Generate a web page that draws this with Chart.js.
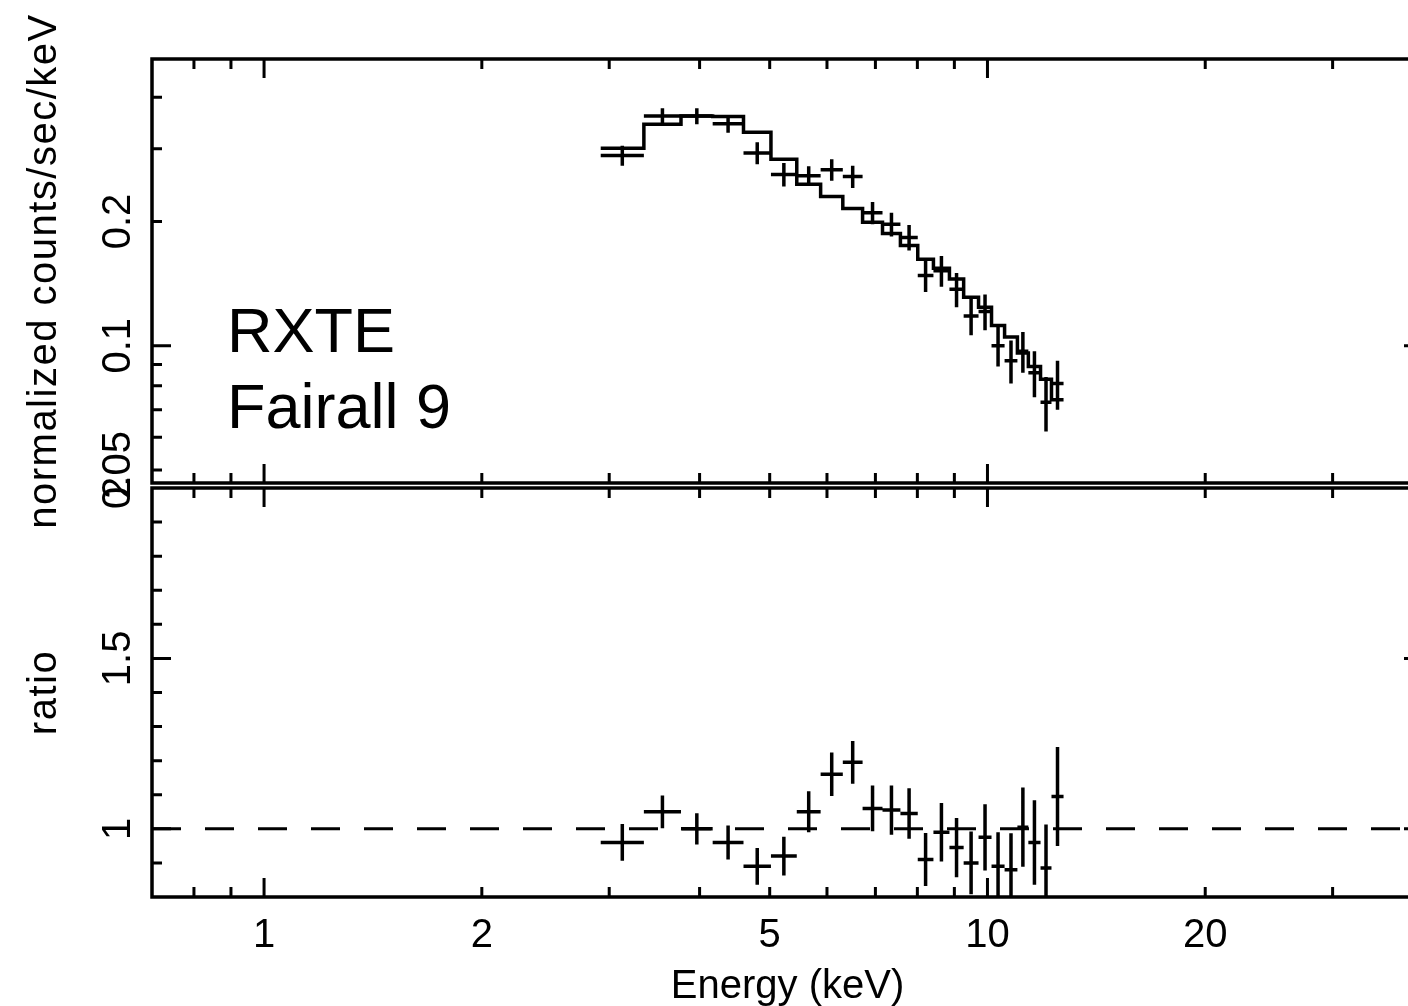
<!DOCTYPE html>
<html>
<head>
<meta charset="utf-8">
<script src="https://cdn.jsdelivr.net/npm/chart.js@4.4.0/dist/chart.umd.min.js"></script>
<style>
html, body { margin: 0; padding: 0; background: #fff; overflow: hidden; }
#wrap { position: relative; width: 1408px; height: 1006px; overflow: hidden; }
canvas { position: absolute; left: 0; top: 0; }
</style>
</head>
<body>
<div id="wrap">
  <canvas id="spec" width="1430" height="1006"></canvas>
  <canvas id="ratio" width="1430" height="1006"></canvas>
</div>
<script>
// channel bin edges (keV)
const binEdges = [2.92, 3.35, 3.77, 4.17, 4.60, 5.02, 5.45, 5.88, 6.31, 6.72, 7.16, 7.58,
                  8.01, 8.42, 8.86, 9.27, 9.72, 10.13, 10.56, 11.00, 11.39, 11.84, 12.26, 12.74];
// normalized counts/sec/keV
const counts = [0.289, 0.360, 0.360, 0.345, 0.293, 0.260, 0.258, 0.267, 0.257, 0.210, 0.197, 0.183,
                0.148, 0.152, 0.137, 0.118, 0.121, 0.100, 0.092, 0.097, 0.086, 0.073, 0.081];
const countErr = [0.016, 0.016, 0.016, 0.017, 0.018, 0.017, 0.014, 0.016, 0.016, 0.013, 0.013, 0.013,
                  0.013, 0.013, 0.013, 0.012, 0.012, 0.011, 0.011, 0.011, 0.011, 0.011, 0.011];
const model = [0.301, 0.344, 0.360, 0.359, 0.329, 0.283, 0.246, 0.230, 0.215, 0.199, 0.187, 0.175,
               0.162, 0.154, 0.145, 0.131, 0.124, 0.112, 0.105, 0.096, 0.089, 0.083, 0.074];
// data / model
const ratio = [0.96, 1.05, 1.00, 0.96, 0.89, 0.92, 1.05, 1.16, 1.195, 1.06, 1.055, 1.045,
               0.91, 0.99, 0.945, 0.90, 0.975, 0.89, 0.88, 1.005, 0.96, 0.885, 1.095];
const ratioErr = [0.054, 0.048, 0.046, 0.050, 0.054, 0.057, 0.060, 0.064, 0.063, 0.067, 0.072, 0.074,
                  0.078, 0.086, 0.087, 0.092, 0.097, 0.100, 0.107, 0.116, 0.124, 0.128, 0.145];

const xRange = [0.7, 40];
const countRange = [0.0465, 0.495];
const ratioRange = [0.8, 2.0];

const xTickLabels = [1, 2, 5, 10, 20];
const xMajorTicks = [1, 10];
const xMinorTicks = [0.8, 0.9, 2, 3, 4, 5, 6, 7, 8, 9, 20, 30];
const countTickLabels = [0.05, 0.1, 0.2];
const countMajorTicks = [0.1];
const countMinorTicks = [0.05, 0.06, 0.07, 0.08, 0.09, 0.2, 0.3, 0.4];
const ratioTickLabels = [1, 1.5, 2];
const ratioMajorTicks = [1, 1.5];
const ratioMinorTicks = [0.9, 1.1, 1.2, 1.3, 1.4, 1.6, 1.7, 1.8, 1.9];

const FONT = '"Liberation Sans", Arial, Helvetica, sans-serif';
const LW = 3.5;

function errorBars(values, errors) {
  return {
    id: 'errorBars',
    afterDatasetsDraw(chart) {
      const { ctx, chartArea: a, scales: { x, y } } = chart;
      ctx.save();
      ctx.beginPath();
      ctx.rect(a.left, a.top, a.right - a.left, a.bottom - a.top);
      ctx.clip();
      ctx.strokeStyle = '#000';
      ctx.lineWidth = LW;
      ctx.beginPath();
      values.forEach((v, i) => {
        const x0 = x.getPixelForValue(binEdges[i]);
        const x1 = x.getPixelForValue(binEdges[i + 1]);
        const xc = (x0 + x1) / 2;
        const yc = y.getPixelForValue(v);
        ctx.moveTo(x0, yc);
        ctx.lineTo(x1, yc);
        ctx.moveTo(xc, y.getPixelForValue(v - errors[i]));
        ctx.lineTo(xc, y.getPixelForValue(v + errors[i]));
      });
      ctx.stroke();
      ctx.restore();
    }
  };
}

function frame(opt) {
  return {
    id: 'frame',
    afterDraw(chart) {
      const { ctx, chartArea: a, scales: { x, y } } = chart;
      ctx.save();
      ctx.strokeStyle = '#000';
      ctx.lineWidth = LW;
      ctx.strokeRect(a.left, a.top, a.right - a.left, a.bottom - a.top);

      ctx.lineWidth = 3;
      ctx.beginPath();
      const inside = (p, lo, hi) => p > lo + 1 && p < hi - 1;
      const xt = (vals, len) => vals.forEach(v => {
        const p = x.getPixelForValue(v);
        if (!inside(p, a.left, a.right)) return;
        ctx.moveTo(p, a.top); ctx.lineTo(p, a.top + len);
        ctx.moveTo(p, a.bottom); ctx.lineTo(p, a.bottom - len);
      });
      const yt = (vals, len) => vals.forEach(v => {
        const p = y.getPixelForValue(v);
        if (!inside(p, a.top, a.bottom)) return;
        ctx.moveTo(a.left, p); ctx.lineTo(a.left + len, p);
        ctx.moveTo(a.right, p); ctx.lineTo(a.right - len, p);
      });
      xt(xMinorTicks, 10);
      xt(xMajorTicks, 19);
      yt(opt.yMinor, 10);
      yt(opt.yMajor, 19);
      ctx.stroke();

      ctx.fillStyle = '#000';
      ctx.font = '40px ' + FONT;
      ctx.textAlign = 'center';
      ctx.textBaseline = 'alphabetic';
      opt.yLabels.forEach(v => {
        ctx.save();
        ctx.translate(130, y.getPixelForValue(v));
        ctx.rotate(-Math.PI / 2);
        ctx.fillText(String(v), 0, 0);
        ctx.restore();
      });

      ctx.save();
      ctx.translate(56, (a.top + a.bottom) / 2);
      ctx.rotate(-Math.PI / 2);
      ctx.letterSpacing = '1.5px';
      ctx.fillText(opt.yTitle, 0, 0);
      ctx.restore();

      if (opt.xLabels) {
        xTickLabels.forEach(v => ctx.fillText(String(v), x.getPixelForValue(v), 947));
        ctx.fillText('Energy (keV)', (a.left + a.right) / 2, 998);
      }
      if (opt.notes) {
        ctx.font = '63px ' + FONT;
        ctx.textAlign = 'left';
        ctx.fillText(opt.notes[0], 227, 352);
        ctx.fillText(opt.notes[1], 227, 428);
      }
      ctx.restore();
    }
  };
}

const modelSteps = model.map((m, i) => ({ x: binEdges[i], y: m }));
modelSteps.push({ x: binEdges[binEdges.length - 1], y: model[model.length - 1] });
const centers = (vals) => vals.map((v, i) => ({ x: Math.sqrt(binEdges[i] * binEdges[i + 1]), y: v }));

const common = {
  responsive: false,
  animation: false,
  devicePixelRatio: 1,
  events: [],
  plugins: { legend: { display: false }, tooltip: { enabled: false } }
};

new Chart(document.getElementById('spec'), {
  type: 'scatter',
  data: {
    datasets: [
      { data: modelSteps, showLine: true, stepped: true, borderColor: '#000', borderWidth: LW, pointRadius: 0 },
      { data: centers(counts), pointRadius: 0 }
    ]
  },
  options: Object.assign({}, common, {
    layout: { padding: { left: 152, top: 59, right: 7, bottom: 1006 - 483 } },
    scales: {
      x: { type: 'logarithmic', min: xRange[0], max: xRange[1], display: false },
      y: { type: 'logarithmic', min: countRange[0], max: countRange[1], display: false }
    }
  }),
  plugins: [
    errorBars(counts, countErr),
    frame({ yMinor: countMinorTicks, yMajor: countMajorTicks, yLabels: countTickLabels,
            yTitle: 'normalized counts/sec/keV', xLabels: false, notes: ['RXTE', 'Fairall 9'] })
  ]
});

new Chart(document.getElementById('ratio'), {
  type: 'scatter',
  data: {
    datasets: [
      { data: [{ x: xRange[0], y: 1 }, { x: xRange[1], y: 1 }], showLine: true, borderColor: '#000',
        borderWidth: 3, borderDash: [29, 24], pointRadius: 0 },
      { data: centers(ratio), pointRadius: 0 }
    ]
  },
  options: Object.assign({}, common, {
    layout: { padding: { left: 152, top: 488, right: 7, bottom: 1006 - 897 } },
    scales: {
      x: { type: 'logarithmic', min: xRange[0], max: xRange[1], display: false },
      y: { type: 'linear', min: ratioRange[0], max: ratioRange[1], display: false }
    }
  }),
  plugins: [
    errorBars(ratio, ratioErr),
    frame({ yMinor: ratioMinorTicks, yMajor: ratioMajorTicks, yLabels: ratioTickLabels,
            yTitle: 'ratio', xLabels: true })
  ]
});
</script>
</body>
</html>
